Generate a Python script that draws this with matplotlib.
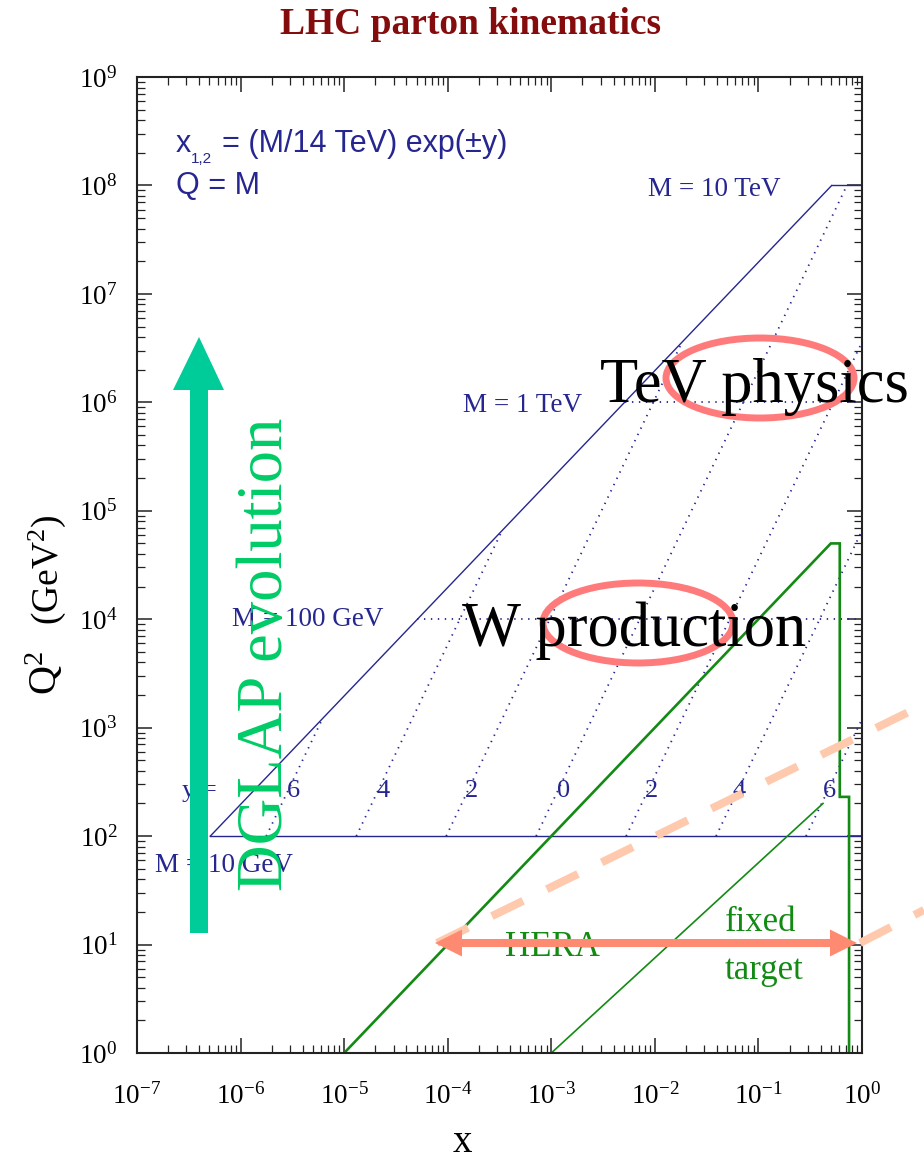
import numpy as np
import matplotlib
matplotlib.use("Agg")
import matplotlib.pyplot as plt
from matplotlib.patches import Ellipse, Polygon
from matplotlib.lines import Line2D
from matplotlib.transforms import Affine2D
from matplotlib.ticker import LogLocator, FuncFormatter, NullFormatter

plt.rcParams["font.family"] = ["Liberation Serif", "DejaVu Serif"]
plt.rcParams["mathtext.fontset"] = "custom"
plt.rcParams["mathtext.rm"] = "Liberation Serif"
plt.rcParams["mathtext.it"] = "Liberation Serif:italic"
plt.rcParams["mathtext.bf"] = "Liberation Serif:bold"
plt.rcParams["lines.scale_dashes"] = False

# ---------------- data: LHC (14 TeV) kinematic plane ----------------
# lines of constant invariant mass M (Q^2 = M^2), starting at the LHC edge
mass_labels = ["M = 10 GeV", "M = 100 GeV", "M = 1 TeV", "M = 10 TeV"]
mass_x_start = [5.1e-7, 5.1e-5, 5.1e-3, 0.51]
mass_x_end = [1.0, 1.0, 1.0, 1.0]
mass_q2 = [1e2, 1e4, 1e6, 1e8]
mass_solid = [True, False, False, True]

# lines of constant rapidity (labels read left to right)
rapidity_labels = ["6", "4", "2", "0", "2", "4", "6"]
rap_x_start = [1.77e-6, 1.31e-5, 9.67e-5, 7.14e-4, 5.28e-3, 3.90e-2, 0.288]
rap_q2_start = [1e2, 1e2, 1e2, 1e2, 1e2, 1e2, 1e2]
rap_x_end = [6.15e-6, 3.35e-4, 1.83e-2, 0.714, 1.0, 1.0, 1.0]
rap_q2_end = [1.20e3, 6.57e4, 3.59e6, 1e8, 3.59e6, 6.57e4, 1.20e3]
rap_label_x = [2.8e-6, 2.07e-5, 1.47e-4, 1.13e-3, 8.0e-3, 5.56e-2, 0.42]
rap_label_q2 = 230

# LHC reach: diagonal edge x2 = 1 up to M = 10 TeV
lhc_x = [5.1e-7, 0.51]
lhc_q2 = [1e2, 1e8]

# HERA and fixed-target regions
hera_x = [1e-5, 0.5, 0.61, 0.61, 0.75, 0.75]
hera_q2 = [1.0, 5e4, 5e4, 230, 230, 1.0]
ft_x = [1e-3, 0.42]
ft_q2 = [1.0, 200]

x_ticks = [1e-7, 1e-6, 1e-5, 1e-4, 1e-3, 1e-2, 1e-1, 1e0]
y_ticks = [1e0, 1e1, 1e2, 1e3, 1e4, 1e5, 1e6, 1e7, 1e8, 1e9]

# ---------------- figure ----------------
W, H = 924, 1163
fig = plt.figure(figsize=(W / 100, H / 100), dpi=100)
px = Affine2D().scale(1 / W, -1 / H).translate(0, 1) + fig.transFigure

ax = fig.add_axes([137 / W, 110 / H, 725 / W, 976 / H])
ax.set_xscale("log")
ax.set_yscale("log")
ax.set_xlim(1e-7, 1.0)
ax.set_ylim(1.0, 1e9)

navy = "#262690"
green = "#138a13"

# mass lines
for xs, xe, q2, solid in zip(mass_x_start, mass_x_end, mass_q2, mass_solid):
    ax.plot([xs, xe], [q2, q2], color=navy, lw=1.0 if solid else 1.3,
            ls="-" if solid else (0, (1, 4)))
ax.plot(lhc_x, lhc_q2, color=navy, lw=1.0)

# rapidity lines
for xs, qs, xe, qe in zip(rap_x_start, rap_q2_start, rap_x_end, rap_q2_end):
    ax.plot([xs, xe], [qs, qe], color=navy, lw=1.3, ls=(0, (1, 4)))

# HERA / fixed target
ax.plot(hera_x, hera_q2, color=green, lw=1.9, solid_joinstyle="miter")
ax.plot(ft_x, ft_q2, color=green, lw=1.2)

# axes styling
ax.set_xticks(x_ticks)
ax.set_yticks(y_ticks)
fmt = FuncFormatter(lambda v, p: r"$\mathregular{10^{%d}}$" % int(round(np.log10(v))))
ax.xaxis.set_major_formatter(fmt)
ax.yaxis.set_major_formatter(fmt)
for axis in (ax.xaxis, ax.yaxis):
    axis.set_minor_locator(LogLocator(base=10, subs=np.arange(2, 10), numticks=30))
    axis.set_minor_formatter(NullFormatter())
ax.tick_params(which="both", direction="in", top=True, right=True, colors="#222222")
ax.tick_params(which="major", length=11, width=1.1, labelsize=19.5, labelcolor="black")
ax.tick_params(which="minor", length=5.5, width=0.9)
ax.tick_params(axis="x", which="major", pad=22)
ax.tick_params(axis="y", which="major", pad=14)
for sp in ax.spines.values():
    sp.set_linewidth(1.5)
    sp.set_color("#222222")

# chart annotations (pixel-positioned, drawn inside the axes layer)
def chart_text(x, y, s, **kw):
    ax.text(x, y, s, transform=px, clip_on=False, **kw)

sans = ["Liberation Sans", "DejaVu Sans"]
chart_text(176, 152, "x", fontsize=22, color=navy, family=sans, va="baseline")
chart_text(191, 163, "1,2", fontsize=11, color=navy, family=sans, va="baseline")
chart_text(222, 152, "= (M/14 TeV) exp(\u00b1y)", fontsize=22, color=navy,
           family=sans, va="baseline")
chart_text(176, 194, "Q = M", fontsize=22, color=navy, family=sans, va="baseline")

mass_label_pos = [(155, 872), (232, 626), (463, 412), (648, 196)]
for (lx, ly), lab in zip(mass_label_pos, mass_labels):
    chart_text(lx, ly, lab, fontsize=19.5, color=navy, va="baseline")

for lx, lab in zip(rap_label_x, rapidity_labels):
    ax.text(lx, rap_label_q2, lab, fontsize=19, color=navy, va="baseline")
ax.text(2.72e-7, rap_label_q2, "y =", fontsize=19, color=navy, va="baseline")

chart_text(505, 956, "HERA", fontsize=25, color=green, va="baseline")
chart_text(725, 931, "fixed", fontsize=25, color=green, va="baseline")
chart_text(725, 979, "target", fontsize=25, color=green, va="baseline")

# titles and axis labels
fig.text(471 / W, 1 - 34 / H, "LHC parton kinematics", ha="center", va="baseline",
         fontsize=27, fontweight="bold", color="#850c0c")
fig.text(462 / W, 1 - 1152 / H, "x", ha="center", va="baseline", fontsize=28)
fig.text(57 / W, 1 - 695 / H, r"Q$^{2}$", rotation=90, rotation_mode="anchor",
         ha="left", va="baseline", fontsize=29)
fig.text(58 / W, 1 - 625 / H, r"(GeV$^{2}$)", rotation=90, rotation_mode="anchor",
         ha="left", va="baseline", fontsize=27)

# ---------------- slide overlays ----------------
teal = "#00cc99"
arrow_up = Polygon([(190, 933), (208, 933), (208, 390), (224, 390), (199, 337),
                    (173, 390), (190, 390)], closed=True, transform=px,
                   facecolor=teal, edgecolor="none", zorder=5)
fig.add_artist(arrow_up)
fig.text(282 / W, 1 - 891 / H, "DGLAP evolution", rotation=90, rotation_mode="anchor",
         ha="left", va="baseline", fontsize=46.5, color="#00cc66", zorder=7)

peach = "#ffc9ae"
for (x0, y0), (x1, y1) in [((437, 943), (924, 704.5)), ((860, 943), (924, 910))]:
    ln = Line2D([x0, x1], [y0, y1], transform=px, color=peach, lw=5.8,
                dashes=(25, 19), solid_capstyle="butt", dash_capstyle="butt", zorder=5)
    fig.add_artist(ln)

salmon = "#ff8a72"
double_arrow = Polygon([(435, 943), (462, 929.5), (462, 939), (830, 939), (830, 929.5),
                        (857, 943), (830, 956.5), (830, 947), (462, 947), (462, 956.5)],
                       closed=True, transform=px, facecolor=salmon, edgecolor="none",
                       zorder=6)
fig.add_artist(double_arrow)

pink = "#ff7b7b"
for (cx, cy), (ew, eh) in [((760, 378), (188, 80)), ((638, 623), (190, 80))]:
    fig.add_artist(Ellipse((cx, cy), ew, eh, transform=px, facecolor="none",
                           edgecolor=pink, lw=5.0, zorder=5))

fig.text(600 / W, 1 - 402 / H, "TeV physics", ha="left", va="baseline",
         fontsize=45, color="black", zorder=7)
fig.text(462 / W, 1 - 646 / H, "W production", ha="left", va="baseline",
         fontsize=45, color="black", zorder=7)

fig.savefig("out.png", dpi=100)
